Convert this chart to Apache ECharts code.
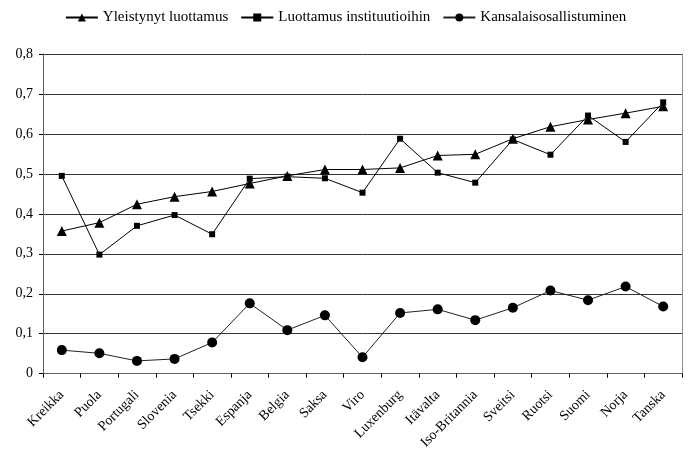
<!DOCTYPE html>
<html>
<head>
<meta charset="utf-8">
<script src="https://cdn.jsdelivr.net/npm/echarts@6/dist/echarts.min.js"></script>
<style>html,body{margin:0;padding:0;background:#fff}#c{width:691px;height:452px}</style>
</head>
<body>
<div id="c"></div>
<script>
var categories = ['Kreikka','Puola','Portugali','Slovenia','Tsekki','Espanja','Belgia','Saksa','Viro','Luxenburg','Itävalta','Iso-Britannia','Sveitsi','Ruotsi','Suomi','Norja','Tanska'];
var yleistynyt = [0.357,0.378,0.424,0.443,0.456,0.476,0.495,0.511,0.511,0.515,0.546,0.549,0.588,0.618,0.636,0.652,0.669];
var instituutiot = [0.495,0.298,0.370,0.397,0.349,0.488,0.493,0.489,0.453,0.588,0.503,0.478,0.586,0.548,0.646,0.580,0.679];
var kansalais = [0.059,0.051,0.032,0.037,0.078,0.176,0.109,0.146,0.041,0.152,0.161,0.134,0.165,0.208,0.184,0.218,0.168];
var seriesNames = ['Yleistynyt luottamus','Luottamus instituutioihin','Kansalaisosallistuminen'];

var font = 'Liberation Serif';
var chart = echarts.init(document.getElementById('c'));
chart.setOption({
  animation: false,
  backgroundColor: '#fff',
  textStyle: {fontFamily: font},
  legend: {
    top: 5, left: 'center',
    itemWidth: 32, itemHeight: 10, itemGap: 12,
    textStyle: {fontFamily: font, fontSize: 15, color: '#000'},
    data: seriesNames
  },
  grid: {left: 43, right: 9, top: 54, bottom: 78, containLabel: false},
  xAxis: {
    type: 'category', data: categories, boundaryGap: true,
    axisLine: {lineStyle: {color: '#606060', width: 1}},
    axisTick: {show: true, inside: false, length: 4, alignWithLabel: false, lineStyle: {color: '#000'}},
    axisLabel: {rotate: 45, interval: 0, fontFamily: font, fontSize: 14, color: '#000', margin: 19},
    splitLine: {show: false}
  },
  yAxis: [{
    type: 'value', min: 0, max: 0.8, interval: 0.1,
    axisLine: {show: true, lineStyle: {color: '#606060', width: 1}},
    axisTick: {show: true, length: 4, lineStyle: {color: '#000'}},
    axisLabel: {fontFamily: font, fontSize: 14, color: '#000', margin: 10,
      formatter: function (v) { return v === 0 ? '0' : v.toFixed(1).replace('.', ','); }},
    splitLine: {show: true, lineStyle: {color: '#333', width: 1}}
  }, {
    type: 'value', min: 0, max: 0.8, interval: 0.1, position: 'right',
    axisLine: {show: true, lineStyle: {color: '#909090', width: 1}},
    axisTick: {show: false}, axisLabel: {show: false}, splitLine: {show: false}
  }],
  series: [{
    name: seriesNames[0], type: 'line', data: yleistynyt,
    symbol: 'triangle', symbolSize: 10,
    lineStyle: {color: '#000', width: 1}, itemStyle: {color: '#000'}
  }, {
    name: seriesNames[1], type: 'line', data: instituutiot,
    symbol: 'rect', symbolSize: 6,
    lineStyle: {color: '#000', width: 1}, itemStyle: {color: '#000'}
  }, {
    name: seriesNames[2], type: 'line', data: kansalais,
    symbol: 'circle', symbolSize: 10,
    lineStyle: {color: '#222', width: 1}, itemStyle: {color: '#000'}
  }]
});
</script>
</body>
</html>
